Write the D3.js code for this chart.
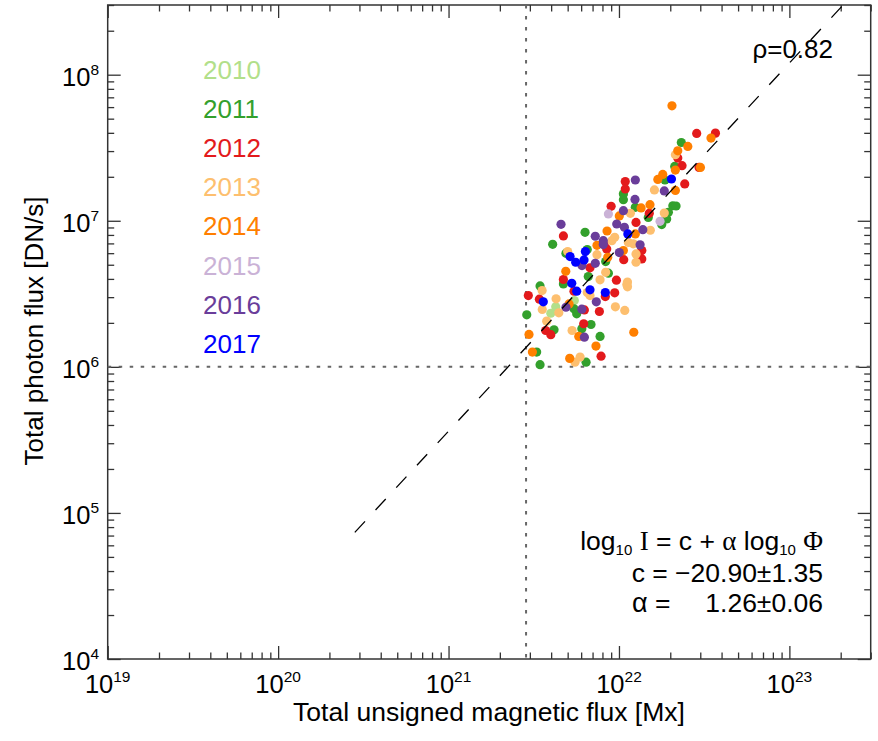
<!DOCTYPE html>
<html>
<head>
<meta charset="utf-8">
<script src="https://cdn.jsdelivr.net/npm/d3@7"></script>
<style>
  body { margin: 0; background: #fff; }
  text { font-family: "Liberation Sans", Arial, sans-serif; }
</style>
</head>
<body>
<svg id="chart" width="878" height="741"></svg>
<script>
// years and their colours
const years = ['2010', '2011', '2012', '2013', '2014', '2015', '2016', '2017'];
const yearColors = ['#b2df8a', '#33a02c', '#e31a1c', '#fdbf6f', '#ff7f00', '#cab2d6', '#6a3d9a', '#0000ff'];

// [log10 flux (Mx), log10 photon flux (DN/s)]
const pts2010 = [[21.629, 6.411], [21.600, 6.367], [21.738, 6.454], [22.026, 7.187]];
const pts2011 = [
  [22.366, 7.536], [22.327, 7.372], [22.270, 7.279], [22.026, 7.144], [22.026, 7.183],
  [22.316, 7.103], [22.335, 7.101], [22.290, 7.058], [22.251, 6.974], [22.280, 7.012],
  [21.801, 6.921], [21.611, 6.839], [21.689, 6.777], [21.820, 6.618], [21.537, 6.554],
  [21.459, 6.356], [21.752, 6.363], [21.619, 6.254], [21.782, 6.261], [21.836, 6.290],
  [21.889, 6.208], [21.517, 6.101], [21.537, 6.015], [21.807, 6.032], [21.938, 6.641],
  [22.096, 7.092], [22.172, 7.023], [21.814, 6.803], [21.922, 6.721], [21.736, 6.397],
  [21.674, 6.568]
];
const pts2012 = [
  [22.456, 7.598], [22.566, 7.600], [22.345, 7.429], [22.370, 7.377], [22.470, 7.365],
  [22.386, 7.252], [22.037, 7.269], [22.037, 7.218], [21.954, 7.099], [22.178, 7.051],
  [22.100, 6.989], [21.674, 6.896], [21.830, 6.678], [21.912, 6.837], [22.028, 6.734],
  [22.134, 6.739], [21.468, 6.488], [21.533, 6.463], [21.674, 6.598], [21.736, 6.518],
  [21.985, 6.593], [21.975, 6.507], [21.920, 6.481], [21.885, 6.379], [21.793, 6.295],
  [21.570, 6.249], [21.600, 6.220], [21.895, 6.073], [21.797, 6.390], [21.928, 6.807],
  [22.134, 6.796]
];
const pts2013 = [
  [22.331, 7.452], [22.208, 7.211], [22.266, 7.053], [22.067, 7.051], [22.184, 6.935],
  [22.084, 6.842], [22.100, 6.716], [21.975, 6.887], [21.871, 6.768], [21.922, 6.647],
  [21.699, 6.789], [21.889, 6.596], [22.046, 6.563], [21.549, 6.522], [21.631, 6.466],
  [21.550, 6.393], [21.647, 6.370], [21.576, 6.313], [21.979, 6.411], [22.034, 6.386],
  [21.725, 6.249], [21.772, 6.067], [21.742, 6.032], [21.814, 6.509], [22.050, 6.580],
  [22.050, 6.548], [22.100, 6.773], [22.055, 6.852], [21.958, 6.864], [21.830, 6.488]
];
const pts2014 = [
  [22.311, 7.787], [22.540, 7.566], [22.404, 7.509], [22.345, 7.479], [22.478, 7.365],
  [22.257, 7.317], [22.331, 7.347], [22.331, 7.208], [22.130, 7.088], [22.182, 7.110],
  [22.002, 7.033], [21.930, 6.930], [22.096, 6.910], [21.871, 6.832], [21.934, 6.750],
  [21.688, 6.654], [22.087, 6.237], [21.472, 6.222], [21.492, 6.101], [21.865, 6.142],
  [21.711, 6.058], [21.764, 6.208], [21.707, 6.431], [22.026, 6.796], [22.228, 7.283]
];
const pts2015 = [[21.938, 7.047], [22.241, 6.996]];
const pts2016 = [
  [22.096, 7.279], [22.266, 7.204], [22.094, 7.146], [22.026, 7.069], [21.987, 6.978],
  [22.032, 6.955], [22.140, 6.939], [21.660, 6.976], [21.861, 6.894], [21.908, 6.864],
  [21.908, 6.837], [22.124, 6.835], [22.002, 6.782], [21.861, 6.709], [21.783, 6.693],
  [21.867, 6.445], [21.782, 6.395], [21.689, 6.408], [21.797, 6.203]
];
const pts2017 = [
  [22.308, 7.286], [22.052, 6.910], [21.713, 6.755], [21.803, 6.789], [21.795, 6.732],
  [21.746, 6.716], [21.723, 6.572], [21.752, 6.518], [21.830, 6.527], [21.920, 6.509],
  [21.556, 6.445]
];
const pointsByYear = [pts2010, pts2011, pts2012, pts2013, pts2014, pts2015, pts2016, pts2017];

// fit: log10 I = c + alpha log10 Phi
const fitC = -20.90;
const fitAlpha = 1.26;
const fitLogRange = [20.45, 23.48];
const fluxThreshold = 2.85e21;
const photonThreshold = 1e6;

const fluxDomain = [1e19, 3e23];
const photonDomain = [1e4, 3e8];
const xMajor = [1e19, 1e20, 1e21, 1e22, 1e23];
const yMajor = [1e4, 1e5, 1e6, 1e7, 1e8];

const svg = d3.select('#chart');
const plotLeft = 107.7, plotRight = 870.7, plotTop = 5, plotBottom = 659;

const x = d3.scaleLog().domain(fluxDomain).range([plotLeft, plotRight]);
const y = d3.scaleLog().domain(photonDomain).range([plotBottom, plotTop]);

function minors(majors, max) {
  const out = [];
  majors.forEach(m => {
    for (let k = 2; k <= 9; k++) if (k * m <= max * 1.0001) out.push(k * m);
  });
  return out;
}
const xMinor = minors(xMajor, fluxDomain[1]);
const yMinor = minors(yMajor, photonDomain[1]);

const axisColor = '#333';

function styleAxis(g) {
  g.select('.domain').remove();
  g.selectAll('line').attr('stroke', axisColor).attr('stroke-width', 1.3);
}

// ticks on all four sides, pointing inward
[[xMajor, 13], [xMinor, 6.5]].forEach(([vals, len]) => {
  svg.append('g').attr('transform', `translate(0,${plotBottom})`)
    .call(d3.axisBottom(x).tickValues(vals).tickSize(-len).tickFormat(''))
    .call(styleAxis);
  svg.append('g').attr('transform', `translate(0,${plotTop})`)
    .call(d3.axisTop(x).tickValues(vals).tickSize(-len).tickFormat(''))
    .call(styleAxis);
});
[[yMajor, 13], [yMinor, 6.5]].forEach(([vals, len]) => {
  svg.append('g').attr('transform', `translate(${plotLeft},0)`)
    .call(d3.axisLeft(y).tickValues(vals).tickSize(-len).tickFormat(''))
    .call(styleAxis);
  svg.append('g').attr('transform', `translate(${plotRight},0)`)
    .call(d3.axisRight(y).tickValues(vals).tickSize(-len).tickFormat(''))
    .call(styleAxis);
});

svg.append('rect')
  .attr('x', plotLeft).attr('y', plotTop)
  .attr('width', plotRight - plotLeft).attr('height', plotBottom - plotTop)
  .attr('fill', 'none').attr('stroke', axisColor).attr('stroke-width', 1.5);

// tick labels 10^n
function powerLabel(sel) {
  sel.append('tspan').text('10');
  sel.append('tspan').attr('dy', -11).attr('font-size', 15.5)
    .text(d => Math.round(Math.log10(d)));
}
svg.append('g').selectAll('text').data(xMajor).join('text')
  .attr('x', d => x(d)).attr('y', 693)
  .attr('text-anchor', 'middle').attr('font-size', 25.5).attr('fill', '#000')
  .call(powerLabel);
svg.append('g').selectAll('text').data(yMajor).join('text')
  .attr('x', 99).attr('y', d => y(d) + 11)
  .attr('text-anchor', 'end').attr('font-size', 25.5).attr('fill', '#000')
  .call(powerLabel);

// axis titles
svg.append('text')
  .attr('x', 489).attr('y', 721).attr('text-anchor', 'middle')
  .attr('font-size', 26.5).text('Total unsigned magnetic flux [Mx]');
svg.append('text')
  .attr('transform', 'translate(43,331) rotate(-90)').attr('text-anchor', 'middle')
  .attr('font-size', 26).text('Total photon flux [DN/s]');

// threshold dotted lines
const dotted = { stroke: '#666', width: 2, dash: '3.5,7.5' };
svg.append('line')
  .attr('x1', x(fluxThreshold)).attr('x2', x(fluxThreshold))
  .attr('y1', plotTop).attr('y2', plotBottom)
  .attr('stroke', dotted.stroke).attr('stroke-width', dotted.width)
  .attr('stroke-dasharray', dotted.dash);
svg.append('line')
  .attr('x1', plotLeft).attr('x2', plotRight)
  .attr('y1', y(photonThreshold)).attr('y2', y(photonThreshold))
  .attr('stroke', dotted.stroke).attr('stroke-width', dotted.width)
  .attr('stroke-dasharray', dotted.dash);

// clip to plot box
svg.append('clipPath').attr('id', 'plotClip')
  .append('rect').attr('x', plotLeft).attr('y', plotTop)
  .attr('width', plotRight - plotLeft).attr('height', plotBottom - plotTop);

// points, drawn year by year
const dots = svg.append('g').attr('clip-path', 'url(#plotClip)');
pointsByYear.forEach((pts, i) => {
  dots.append('g').selectAll('circle').data(pts).join('circle')
    .attr('cx', d => x(Math.pow(10, d[0])))
    .attr('cy', d => y(Math.pow(10, d[1])))
    .attr('r', 4.6)
    .attr('fill', yearColors[i]);
});

// fit line
const fitPts = fitLogRange.map(lx => [Math.pow(10, lx), Math.pow(10, fitC + fitAlpha * lx)]);
svg.append('path')
  .attr('clip-path', 'url(#plotClip)')
  .attr('d', d3.line().x(d => x(d[0])).y(d => y(d[1]))(fitPts))
  .attr('fill', 'none').attr('stroke', '#000').attr('stroke-width', 1.3)
  .attr('stroke-dasharray', '15,15.5');

// legend of years
svg.append('g').selectAll('text').data(years).join('text')
  .attr('x', 203).attr('y', (d, i) => 79 + 39.1 * i)
  .attr('font-size', 26)
  .attr('fill', (d, i) => yearColors[i])
  .text(d => d);

// correlation
svg.append('text')
  .attr('x', 833).attr('y', 58).attr('text-anchor', 'end')
  .attr('font-size', 26).text('\u03c1=0.82');

// fit formula
const serif = '"Liberation Serif", "DejaVu Serif", serif';
const f1 = svg.append('text').attr('x', 823).attr('y', 550)
  .attr('text-anchor', 'end').attr('font-size', 26.5);
f1.append('tspan').text('log');
f1.append('tspan').attr('font-size', 15).attr('dy', 4.5).text('10');
f1.append('tspan').attr('dy', -4.5).text(' ');
f1.append('tspan').attr('font-family', serif).attr('font-size', 27).text('I');
f1.append('tspan').text(' = c + ');
f1.append('tspan').attr('font-family', serif).attr('font-size', 27).text('\u03b1');
f1.append('tspan').text(' log');
f1.append('tspan').attr('font-size', 15).attr('dy', 4.5).text('10');
f1.append('tspan').attr('dy', -4.5).text(' ');
f1.append('tspan').attr('font-family', serif).attr('font-size', 27).text('\u03a6');

svg.append('text').attr('x', 823).attr('y', 582)
  .attr('text-anchor', 'end').attr('font-size', 26.5)
  .text('c = \u221220.90\u00b11.35');
svg.append('text').attr('x', 632).attr('y', 612)
  .attr('font-size', 27).attr('font-family', serif).text('\u03b1')
  .append('tspan').attr('font-size', 26.5)
  .attr('font-family', '"Liberation Sans", Arial, sans-serif').text(' =');
svg.append('text').attr('x', 823).attr('y', 612)
  .attr('text-anchor', 'end').attr('font-size', 26.5)
  .text('1.26\u00b10.06');
</script>
</body>
</html>
